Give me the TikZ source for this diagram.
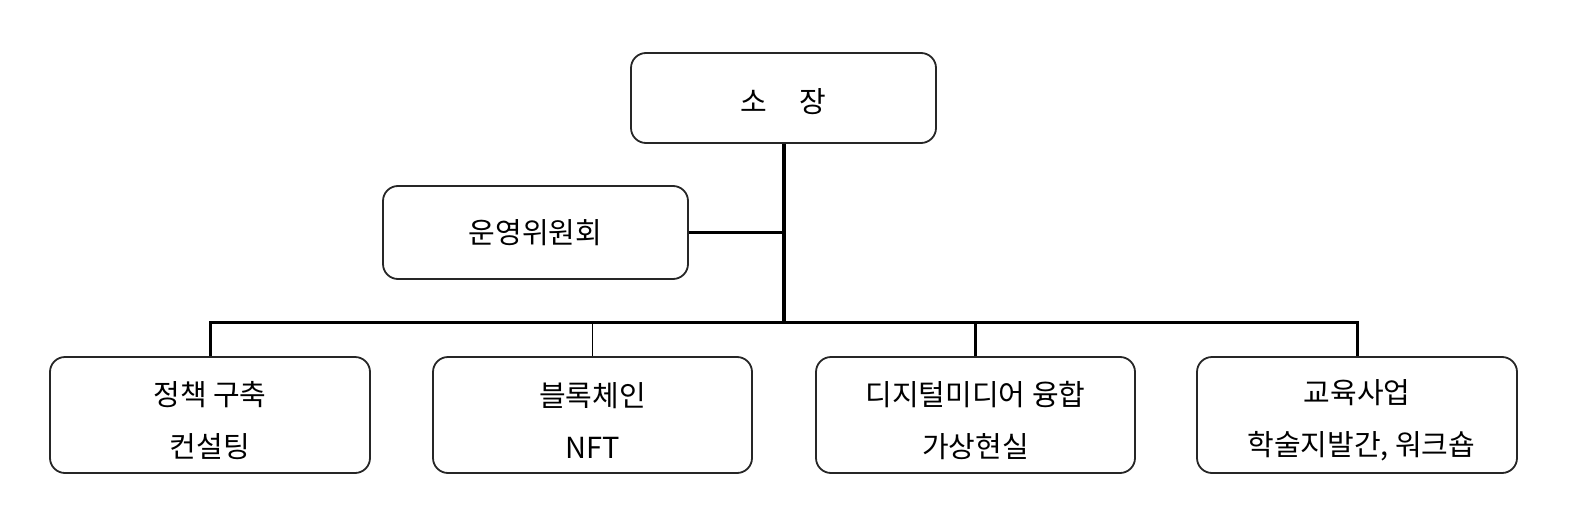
\documentclass[tikz,border=0pt]{standalone}
\usepackage{fontspec}
\setmainfont{Noto Sans CJK KR}
\newcommand{\pushdown}[1]{\rule{0pt}{#1}}
\begin{document}
\begin{tikzpicture}[x=1pt,y=-1pt,
  box/.style={draw=black!85,line width=1.8pt,rounded corners=15pt,fill=white,inner sep=0pt,align=center,font=\fontsize{29}{52}\selectfont},
  link/.style={line width=3pt,black}]
\useasboundingbox (0,0) rectangle (1569,522);
\node[box,minimum width=305pt,minimum height=90pt] (top) at (783.5,98) {\pushdown{31pt}소\hspace{1.1em}장};
\node[box,minimum width=305pt,minimum height=93pt] (com) at (535.5,232.5) {운영위원회};
\node[box,minimum width=320pt,minimum height=116pt] (b1) at (210,415) {\pushdown{35pt}정책 구축\\컨설팅};
\node[box,minimum width=319pt,minimum height=116pt] (b2) at (592.5,415) {\pushdown{35pt}블록체인\\NFT};
\node[box,minimum width=319pt,minimum height=116pt] (b3) at (975.5,415) {\pushdown{35pt}디지털미디어 융합\\가상현실};
\node[box,minimum width=320pt,minimum height=116pt] (b4) at (1357,415) {\pushdown{35pt}교육사업\\\hspace{0.3em}학술지발간, 워크숍};
\coordinate (bus) at (783.5,322.5);
\draw[line width=4pt] (top.south) -- (bus);
\draw[link] (com.east) -- (com.east -| bus);
\draw[link] (b1.north) |- (bus) -| (b4.north);
\draw[link] (b3.north) -- (b3.north |- bus);
\draw[line width=1.8pt] (b2.north) -- (b2.north |- bus);
\end{tikzpicture}
\end{document}
